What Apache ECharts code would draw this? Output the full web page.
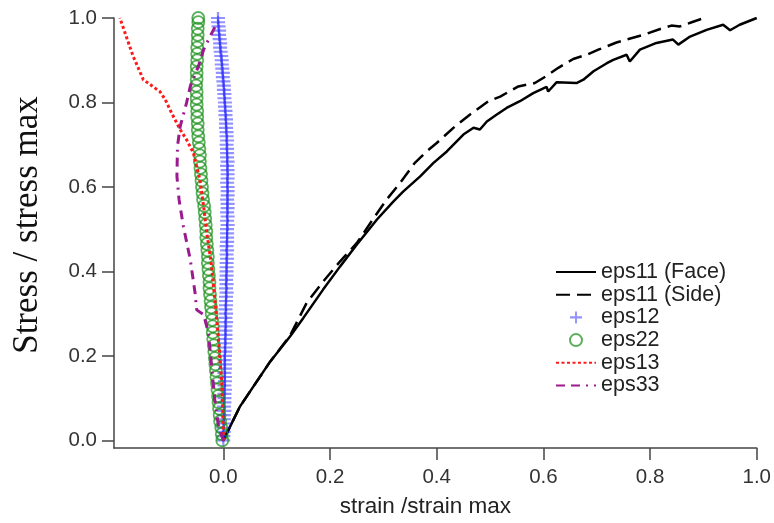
<!DOCTYPE html>
<html>
<head>
<meta charset="utf-8">
<script src="https://cdn.jsdelivr.net/npm/echarts@6/dist/echarts.min.js"></script>
<style>html,body{margin:0;padding:0;background:#fff;}#c{width:774px;height:523px;}</style>
</head>
<body>
<div id="c"></div>
<script>
// tick values
const xTicks = [0, 0.2, 0.4, 0.6, 0.8, 1.0];
const yTicks = [0, 0.2, 0.4, 0.6, 0.8, 1.0];

// eps11 (Face) : [strain, stress]
const faceData = [
  [0,0],[0.031,0.080],[0.088,0.187],[0.125,0.246],[0.150,0.290],[0.187,0.357],
  [0.219,0.412],[0.250,0.463],[0.288,0.523],[0.319,0.566],[0.337,0.589],[0.369,0.625],
  [0.394,0.657],[0.419,0.684],[0.450,0.724],[0.469,0.740],[0.481,0.736],[0.494,0.755],
  [0.512,0.771],[0.531,0.787],[0.556,0.803],[0.581,0.822],[0.606,0.837],[0.609,0.826],
  [0.625,0.848],[0.662,0.846],[0.675,0.854],[0.694,0.874],[0.719,0.893],[0.731,0.901],
  [0.756,0.913],[0.762,0.897],[0.781,0.925],[0.812,0.941],[0.843,0.949],[0.853,0.937],
  [0.875,0.956],[0.906,0.972],[0.937,0.984],[0.950,0.971],[0.968,0.984],[1.0,1.0]
];

// eps11 (Side)
const sideData = [
  [0,0],[0.031,0.080],[0.088,0.187],[0.125,0.248],[0.156,0.325],[0.187,0.376],
  [0.219,0.424],[0.250,0.467],[0.284,0.530],[0.306,0.570],[0.331,0.609],[0.359,0.657],
  [0.381,0.684],[0.400,0.704],[0.434,0.743],[0.462,0.771],[0.497,0.803],[0.519,0.814],
  [0.553,0.838],[0.584,0.846],[0.606,0.863],[0.628,0.882],[0.656,0.903],[0.681,0.913],
  [0.703,0.925],[0.737,0.942],[0.756,0.949],[0.787,0.960],[0.819,0.974],[0.840,0.982],
  [0.856,0.980],[0.878,0.990],[0.906,1.002]
];

// eps12 (blue +)
const eps12Data = [
  [0.000,0.000],[0.000,0.010],[0.001,0.020],[0.000,0.030],[0.001,0.040],[0.001,0.050],
  [0.001,0.060],[0.002,0.070],[0.001,0.080],[0.002,0.090],[0.002,0.100],[0.002,0.110],
  [0.003,0.120],[0.002,0.130],[0.003,0.140],[0.003,0.150],[0.002,0.160],[0.003,0.170],
  [0.003,0.180],[0.002,0.190],[0.003,0.200],[0.003,0.210],[0.004,0.220],[0.003,0.230],
  [0.004,0.240],[0.004,0.250],[0.004,0.260],[0.004,0.270],[0.005,0.280],[0.004,0.290],
  [0.005,0.300],[0.004,0.310],[0.005,0.320],[0.005,0.330],[0.005,0.340],[0.006,0.350],
  [0.005,0.360],[0.006,0.370],[0.005,0.380],[0.006,0.390],[0.006,0.400],[0.006,0.410],
  [0.006,0.420],[0.007,0.430],[0.006,0.440],[0.007,0.450],[0.006,0.460],[0.007,0.470],
  [0.007,0.480],[0.007,0.490],[0.007,0.500],[0.008,0.510],[0.007,0.520],[0.008,0.530],
  [0.007,0.540],[0.008,0.550],[0.008,0.560],[0.007,0.570],[0.008,0.580],[0.008,0.590],
  [0.008,0.600],[0.007,0.610],[0.008,0.620],[0.008,0.630],[0.008,0.640],[0.007,0.650],
  [0.008,0.660],[0.007,0.670],[0.007,0.680],[0.007,0.690],[0.006,0.700],[0.007,0.710],
  [0.006,0.720],[0.006,0.730],[0.005,0.740],[0.005,0.750],[0.005,0.760],[0.004,0.770],
  [0.004,0.780],[0.003,0.790],[0.003,0.800],[0.002,0.810],[0.002,0.820],[0.001,0.830],
  [0.001,0.840],[0.000,0.850],[-0.001,0.860],[-0.001,0.870],[-0.002,0.880],[-0.003,0.890],
  [-0.003,0.900],[-0.004,0.910],[-0.005,0.920],[-0.006,0.930],[-0.006,0.940],[-0.007,0.950],
  [-0.008,0.960],[-0.008,0.970],[-0.009,0.980],[-0.010,0.990],[-0.010,1.000]
];

// eps22 (green circles)
const eps22Data = [
  [-0.002,0.000],[-0.003,0.015],[-0.004,0.030],[-0.006,0.045],[-0.007,0.060],[-0.008,0.075],
  [-0.009,0.090],[-0.010,0.105],[-0.011,0.120],[-0.012,0.135],[-0.013,0.150],[-0.014,0.165],
  [-0.015,0.180],[-0.016,0.195],[-0.017,0.210],[-0.018,0.225],[-0.019,0.240],[-0.020,0.255],
  [-0.020,0.270],[-0.021,0.285],[-0.022,0.300],[-0.023,0.315],[-0.024,0.330],[-0.025,0.345],
  [-0.026,0.360],[-0.026,0.375],[-0.027,0.390],[-0.028,0.405],[-0.029,0.420],[-0.029,0.435],
  [-0.030,0.450],[-0.031,0.465],[-0.032,0.480],[-0.032,0.495],[-0.033,0.510],[-0.034,0.525],
  [-0.035,0.540],[-0.036,0.555],[-0.038,0.570],[-0.039,0.585],[-0.040,0.600],[-0.041,0.615],
  [-0.042,0.630],[-0.043,0.645],[-0.044,0.660],[-0.044,0.675],[-0.045,0.690],[-0.046,0.705],
  [-0.047,0.720],[-0.048,0.735],[-0.048,0.750],[-0.049,0.765],[-0.049,0.780],[-0.050,0.795],
  [-0.050,0.810],[-0.050,0.825],[-0.051,0.840],[-0.050,0.855],[-0.050,0.870],[-0.050,0.885],
  [-0.049,0.900],[-0.049,0.915],[-0.049,0.930],[-0.048,0.945],[-0.048,0.960],[-0.048,0.975],
  [-0.047,0.990],[-0.047,1.000]
];

// eps13 (red dotted)
const eps13Data = [
  [0,0],[0.000,0.018],[-0.003,0.136],[-0.010,0.254],[-0.016,0.333],[-0.022,0.412],
  [-0.031,0.491],[-0.037,0.554],[-0.044,0.617],[-0.056,0.680],[-0.069,0.712],[-0.081,0.736],
  [-0.097,0.775],[-0.109,0.807],[-0.119,0.826],[-0.128,0.834],[-0.150,0.854],[-0.169,0.909],
  [-0.194,1.0]
];

// eps33 (purple dash-dot)
const eps33Data = [
  [0,0],[-0.003,0.002],[-0.009,0.033],[-0.016,0.096],[-0.022,0.175],[-0.028,0.254],
  [-0.037,0.298],[-0.050,0.309],[-0.053,0.349],[-0.062,0.428],[-0.075,0.507],[-0.083,0.570],
  [-0.087,0.625],[-0.086,0.696],[-0.081,0.743],[-0.069,0.799],[-0.062,0.838],[-0.047,0.885],
  [-0.037,0.925],[-0.025,0.956],[-0.012,0.988]
];

const seriesNames = ['eps11 (Face)', 'eps11 (Side)', 'eps12', 'eps22', 'eps13', 'eps33'];

const FONT = "'Liberation Sans', Arial, Helvetica, sans-serif";
const axisColor = '#444';
const plusPath = 'path://M4.2,0H5.8V4.1H10V5.9H5.8V10H4.2V5.9H0V4.1H4.2Z';

const chart = echarts.init(document.getElementById('c'), null, {renderer: 'canvas'});
chart.setOption({
  animation: false,
  backgroundColor: '#fff',
  grid: {left: 114, right: 17, top: 18, bottom: 75, containLabel: false},
  xAxis: {
    type: 'value', min: -0.205, max: 1.0,
    axisLine: {show: true, onZero: false, lineStyle: {color: axisColor, width: 1.5}},
    axisTick: {show: true, inside: false, length: 12, customValues: xTicks, lineStyle: {color: axisColor, width: 1.5}},
    axisLabel: {customValues: xTicks, formatter: v => v.toFixed(1), fontSize: 20.5, color: '#333', fontFamily: FONT, margin: 19},
    splitLine: {show: false},
    name: 'strain /strain max', nameLocation: 'middle', nameGap: 47,
    nameTextStyle: {fontSize: 22.5, color: '#222', fontFamily: FONT, padding: [0, 20, 0, 0]}
  },
  yAxis: {
    type: 'value', min: -0.018, max: 1.0,
    axisLine: {show: true, onZero: false, lineStyle: {color: axisColor, width: 1.5}},
    axisTick: {show: true, inside: false, length: 12, customValues: yTicks, lineStyle: {color: axisColor, width: 1.5}},
    axisLabel: {customValues: yTicks, formatter: v => v.toFixed(1), fontSize: 20.5, color: '#333', fontFamily: FONT, margin: 17},
    splitLine: {show: false}
  },
  graphic: [{
    type: 'text', x: 28, y: 225, rotation: Math.PI / 2,
    style: {text: 'Stress / stress max', font: "35px 'Liberation Serif', 'Times New Roman', serif", fill: '#111', textAlign: 'center', textVerticalAlign: 'middle'}
  }],
  legend: {
    orient: 'vertical', left: 555, top: 261, padding: 0,
    itemWidth: 40, itemHeight: 12, itemGap: 0.7,
    textStyle: {fontSize: 21.5, lineHeight: 22, color: '#222', fontFamily: FONT},
    data: [
      {name: seriesNames[0], itemStyle: {opacity: 0}},
      {name: seriesNames[1], itemStyle: {opacity: 0}},
      {name: seriesNames[2]},
      {name: seriesNames[3]},
      {name: seriesNames[4], itemStyle: {opacity: 0}},
      {name: seriesNames[5], itemStyle: {opacity: 0}}
    ]
  },
  series: [
    {name: seriesNames[0], type: 'line', data: faceData, symbol: 'none', smooth: false,
     lineStyle: {color: '#000', width: 2.5}, itemStyle: {color: '#000'}, z: 2},
    {name: seriesNames[1], type: 'line', data: sideData, symbol: 'none', smooth: false,
     lineStyle: {color: '#000', width: 2.5, type: [14, 7]}, itemStyle: {color: '#000'}, z: 2},
    {name: seriesNames[2], type: 'scatter', data: eps12Data, symbol: plusPath, symbolSize: [14, 12],
     symbolKeepAspect: false,
     itemStyle: {color: '#1010ff', opacity: 0.45}, z: 3},
    {name: seriesNames[3], type: 'scatter', data: eps22Data, symbol: 'circle', symbolSize: 12,
     itemStyle: {color: 'rgba(0,0,0,0)', borderColor: '#168f16', borderWidth: 1.8, opacity: 0.7}, z: 3},
    {name: seriesNames[4], type: 'line', data: eps13Data, symbol: 'none', smooth: false,
     lineStyle: {color: '#ff1a1a', width: 3, type: [3, 2.5]}, itemStyle: {color: '#ff1a1a'}, z: 4},
    {name: seriesNames[5], type: 'line', data: eps33Data, symbol: 'none', smooth: false,
     lineStyle: {color: '#9b1a8e', width: 3, type: [9, 6, 9, 6, 2, 6]}, itemStyle: {color: '#9b1a8e'}, z: 4}
  ]
});
</script>
</body>
</html>
